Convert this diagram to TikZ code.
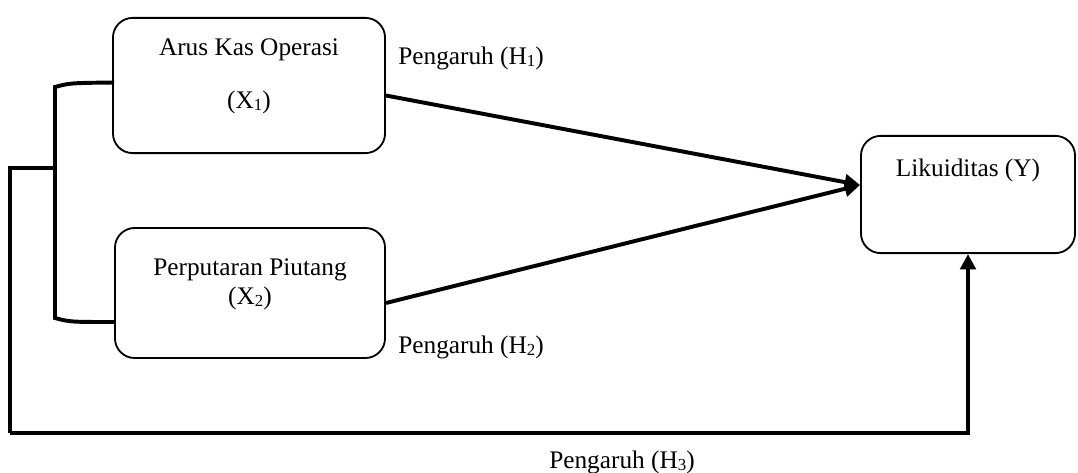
\documentclass[tikz,border=0pt]{standalone}
\usepackage{fontspec}
\setmainfont{Liberation Serif}
\usetikzlibrary{arrows.meta, positioning, calc}

\newcommand{\hsub}[1]{\raisebox{-0.2ex}{\fontsize{12}{13}\selectfont #1}}

\begin{document}
\begin{tikzpicture}[
    x=0.025cm, y=-0.025cm,
    varbox/.style = {rectangle, draw=black, line width=1.3pt, rounded corners=14pt, inner sep=0pt},
    txt/.style = {font=\fontsize{18}{21}\selectfont, inner sep=0pt},
    arrow/.style = {draw=black, line width=2.8pt, -{Triangle[length=11pt, width=11pt]}},
    bracket/.style = {draw=black, line width=2.8pt}
]
\useasboundingbox (0,0) rectangle (1078,473);

% Variables
\node (x1) [varbox, minimum width=6.8cm, minimum height=3.38cm] at (249,85.5) {};
\node (x2) [varbox, minimum width=6.75cm, minimum height=3.25cm] at (250,293) {};
\node (ly) [varbox, minimum width=5.35cm, minimum height=2.93cm] at (968,194.5) {};

\node (t_x1) [txt] at (249,50) {Arus Kas Operasi};
\node (t_x1b) [txt] at (249,102) {(X\hsub{1})};
\node (t_x2) [txt] at (250,270) {Perputaran Piutang};
\node (t_x2b) [txt] at (250,298) {(X\hsub{2})};
\node (t_y) [txt] at (968,170) {Likuiditas (Y)};

% Labels
\node (h1) [txt, anchor=west] at (398,58) {Pengaruh (H\hsub{1})};
\node (h2) [txt, anchor=west] at (398,347) {Pengaruh (H\hsub{2})};
\node (h3) [txt] at (622,462) {Pengaruh (H\hsub{3})};

\coordinate (hit) at (ly.west |- 0,185);
\coordinate (bt) at (55,87);
\coordinate (bb) at (55,318);
\coordinate (bm) at (55,168);
\coordinate (lo) at (10,433);

\draw [arrow] ($(x1.east)+(0,10)$) -- (hit);
\draw [arrow] ($(x2.east)+(0,10)$) -- (hit);

% Bracket and simultaneous path
\draw [bracket] ($(x1.west)+(2,-3)$) .. controls (70,83) .. (bt) -- (bb) .. controls (70,322) .. ($(x2.west)+(0,29)$);
\draw [bracket] (bm) -- (bm -| lo) -- (lo);
\draw [arrow] (lo) -| (ly.south);

\end{tikzpicture}
\end{document}
